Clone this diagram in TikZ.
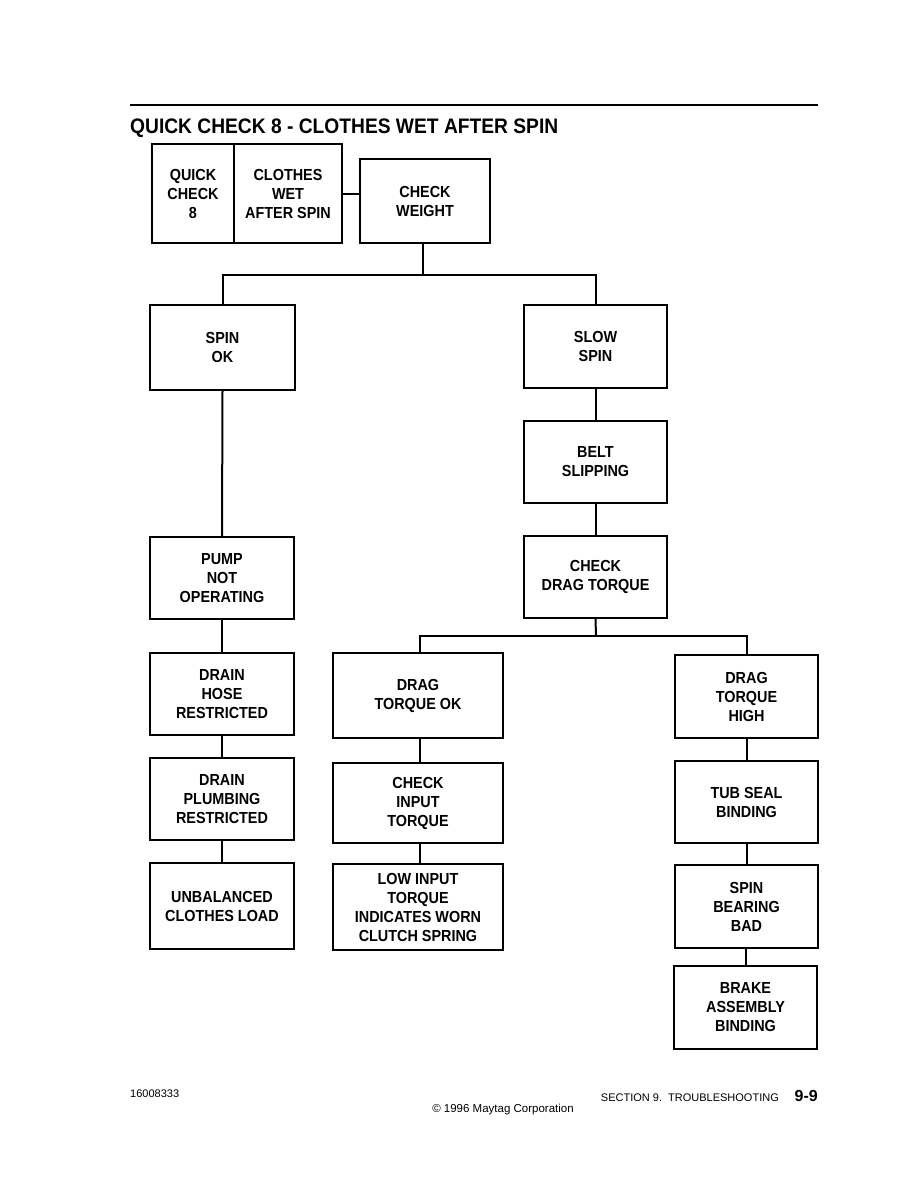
\documentclass[tikz,border=0pt]{standalone}
\usepackage{fontspec}
\setmainfont{Liberation Sans}
\newfontfamily\condfont[FakeStretch=0.9]{Liberation Sans}
\newfontfamily\titlefont[FakeStretch=0.915]{Liberation Sans}
\begin{document}
\begin{tikzpicture}[x=1pt,y=-1pt,
  box/.style={draw,line width=1.9pt,inner sep=0pt,align=center,
    font=\condfont\bfseries\fontsize{16}{19}\selectfont},
  conn/.style={line width=2pt}]
\useasboundingbox (0,0) rectangle (918,1188);
\fill[white] (0,0) rectangle (918,1188);
% header
\draw[line width=2pt] (130,105) -- (818,105);
\node[anchor=base west,inner sep=0pt,font=\titlefont\bfseries\fontsize{21}{24}\selectfont] (title) at (130,134) {QUICK CHECK 8 - CLOTHES WET AFTER SPIN};
% boxes
\node[box,minimum width=82pt,minimum height=99pt] (qc) at (193,193.5) {QUICK\\CHECK\\8};
\node[box,minimum width=108pt,minimum height=99pt] (cw) at (288,193.5) {CLOTHES\\WET\\AFTER SPIN};
\node[box,minimum width=130pt,minimum height=84pt] (wt) at (425,201) {CHECK\\WEIGHT};
\node[box,minimum width=145pt,minimum height=85pt] (spok) at (222.5,347.5) {SPIN\\OK};
\node[box,minimum width=143pt,minimum height=83pt] (slow) at (595.5,346.5) {SLOW\\SPIN};
\node[box,minimum width=143pt,minimum height=82pt] (belt) at (595.5,462) {BELT\\SLIPPING};
\node[box,minimum width=143pt,minimum height=82pt] (cdt) at (595.5,577) {CHECK\\DRAG TORQUE};
\node[box,minimum width=144pt,minimum height=82pt] (pump) at (222,578) {PUMP\\NOT\\OPERATING};
\node[box,minimum width=144pt,minimum height=82pt] (hose) at (222,694) {DRAIN\\HOSE\\RESTRICTED};
\node[box,minimum width=144pt,minimum height=82pt] (plumb) at (222,799) {DRAIN\\PLUMBING\\RESTRICTED};
\node[box,minimum width=144pt,minimum height=86pt] (unbal) at (222,906) {UNBALANCED\\CLOTHES LOAD};
\node[box,minimum width=170pt,minimum height=85pt] (dok) at (418,695.5) {DRAG\\TORQUE OK};
\node[box,minimum width=143pt,minimum height=83pt] (dhigh) at (746.5,696.5) {DRAG\\TORQUE\\HIGH};
\node[box,minimum width=170pt,minimum height=80pt] (cit) at (418,803) {CHECK\\INPUT\\TORQUE};
\node[box,minimum width=170pt,minimum height=86pt] (low) at (418,907) {LOW INPUT\\TORQUE\\INDICATES WORN\\CLUTCH SPRING};
\node[box,minimum width=143pt,minimum height=82pt] (tub) at (746.5,802) {TUB SEAL\\BINDING};
\node[box,minimum width=143pt,minimum height=83pt] (bear) at (746.5,906.5) {SPIN\\BEARING\\BAD};
\node[box,minimum width=143pt,minimum height=83pt] (brake) at (745.5,1007.5) {BRAKE\\ASSEMBLY\\BINDING};
% connectors
\draw[conn] (cw.east) -- (wt.west |- cw.east);
\coordinate (j1) at (423,275);
\draw[conn] (j1 |- wt.south) -- (j1);
\draw[conn] (spok.north) -- (spok.north |- j1) -- (j1 -| slow.north) -- (slow.north);
\draw[conn] (spok.south) -- (pump.north);
\draw[conn] (pump.south) -- (hose.north);
\draw[conn] (hose.south) -- (plumb.north);
\draw[conn] (plumb.south) -- (unbal.north);
\draw[conn] (slow.south) -- (belt.north);
\draw[conn] (belt.south) -- (cdt.north);
\coordinate (j2) at (596,636);
\coordinate (jl) at (420,636);
\draw[conn] (cdt.south) -- (j2);
\draw[conn] (jl |- dok.north) -- (jl) -- (jl -| dhigh.north) -- (dhigh.north);
\draw[conn] (jl |- dok.south) -- (jl |- cit.north);
\draw[conn] (jl |- cit.south) -- (jl |- low.north);
\draw[conn] (dhigh.south) -- (tub.north);
\draw[conn] (tub.south) -- (bear.north);
\draw[conn] (bear.south -| 746,0) -- (brake.north -| 746,0);
% footer
\node[anchor=base west,inner sep=0pt,font=\fontsize{11}{13}\selectfont] (num) at (130,1097) {16008333};
\node[anchor=base,inner sep=0pt,font=\fontsize{11.5}{13}\selectfont] (copy) at (503,1112) {\textcopyright{} 1996 Maytag Corporation};
\node[anchor=base east,inner sep=0pt,font=\fontsize{11}{13}\selectfont] (sec) at (779,1101) {SECTION 9.\ \ TROUBLESHOOTING};
\node[anchor=base east,inner sep=0pt,font=\bfseries\fontsize{16}{18}\selectfont] (pg) at (818,1101) {9-9};
\end{tikzpicture}
\end{document}
